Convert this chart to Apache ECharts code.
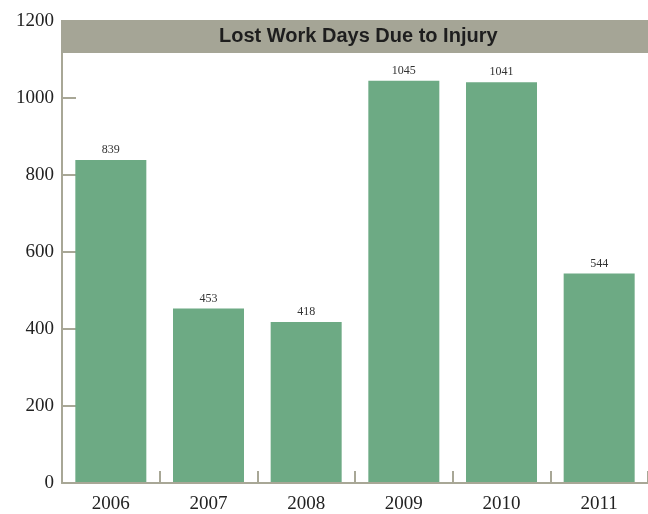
<!DOCTYPE html>
<html>
<head>
<meta charset="utf-8">
<script src="https://cdn.jsdelivr.net/npm/echarts@6/dist/echarts.min.js"></script>
<style>
  html, body { margin: 0; padding: 0; background: #fff; }
  #chart { width: 648px; height: 514px; }
</style>
</head>
<body>
<div id="chart"></div>
<script>
// data
var years = ["2006", "2007", "2008", "2009", "2010", "2011"];
var lostDays = [839, 453, 418, 1045, 1041, 544];
var titleText = "Lost Work Days Due to Injury";

var axisGray = "#a8a796";
var barGreen = "#6daa84";

var myChart = echarts.init(document.getElementById("chart"));

var option = {
  animation: false,
  grid: { left: 62, right: 0, top: 21, bottom: 30 },
  // title band across the top of the plot
  graphic: [
    {
      type: "rect",
      left: 61,
      top: 20,
      shape: { width: 587, height: 33 },
      style: { fill: "#a5a596" },
      z: 10
    },
    {
      type: "text",
      left: 62 + 293 - 140 + 4,
      top: 26,
      style: {
        text: titleText,
        width: 280,
        align: "center",
        fill: "#1e1e1e",
        font: "bold 20px 'Liberation Sans Narrow', 'Liberation Sans', sans-serif"
      },
      z: 11
    }
  ],
  xAxis: {
    type: "category",
    data: years,
    axisLine: { show: true, lineStyle: { color: axisGray, width: 2 } },
    axisTick: {
      show: true,
      inside: true,
      length: 12,
      interval: 0,
      lineStyle: { color: axisGray, width: 2 }
    },
    axisLabel: {
      color: "#222",
      fontFamily: "Liberation Serif",
      fontSize: 19,
      margin: 12
    },
    z: 5
  },
  yAxis: {
    type: "value",
    min: 0,
    max: 1200,
    interval: 200,
    axisLine: { show: true, lineStyle: { color: axisGray, width: 2 } },
    axisTick: { show: true, inside: true, length: 14, lineStyle: { color: axisGray, width: 2 } },
    splitLine: { show: false },
    axisLabel: {
      color: "#222",
      fontFamily: "Liberation Serif",
      fontSize: 19,
      margin: 8,
      formatter: function (v) { return String(v); }
    }
  },
  series: [
    {
      type: "bar",
      data: lostDays,
      barWidth: 71,
      itemStyle: { color: barGreen },
      label: {
        show: true,
        position: "top",
        distance: 4,
        color: "#333",
        fontFamily: "Liberation Serif",
        fontSize: 12
      }
    }
  ]
};

myChart.setOption(option);
</script>
</body>
</html>
